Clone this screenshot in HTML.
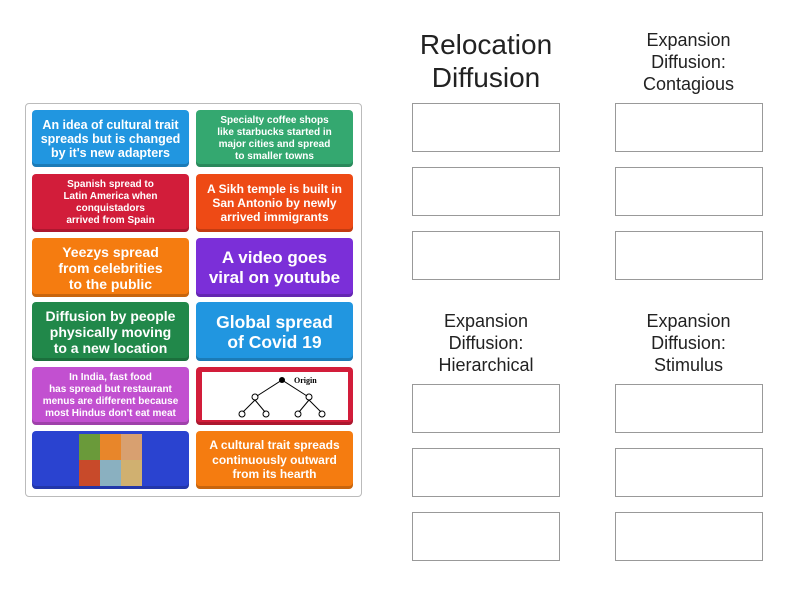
<!DOCTYPE html>
<html><head><meta charset="utf-8"><style>
body{margin:0;width:800px;height:600px;background:#fff;font-family:"Liberation Sans",sans-serif;position:relative;overflow:hidden}
.panel{position:absolute;left:25px;top:103px;width:335px;height:392px;border:1px solid #bbb;border-radius:4px;background:#fff}
.c{position:absolute;width:157px;border-radius:4px;color:#fff;font-weight:bold;text-align:center;display:flex;align-items:center;justify-content:center;line-height:1.15;box-shadow:inset 0 -3px 0 rgba(0,0,0,.18);white-space:nowrap}
.b{position:absolute;width:146px;height:47px;border:1px solid #999;background:#fff}
.h{position:absolute;text-align:center;color:#222}
</style></head><body>
<div class="panel"></div>
<div class="c" style="left:32px;top:110px;height:57px;background:#2196e0;font-size:12.5px;line-height:14px">An idea of cultural trait<br>spreads but is changed<br>by it's new adapters</div>
<div class="c" style="left:196px;top:110px;height:57px;background:#34a870;font-size:10px;line-height:12px">Specialty coffee shops<br>like starbucks started in<br>major cities and spread<br>to smaller towns</div>
<div class="c" style="left:32px;top:174px;height:58px;background:#d21d3a;font-size:10px;line-height:12px">Spanish spread to<br>Latin America when<br>conquistadors<br>arrived from Spain</div>
<div class="c" style="left:196px;top:174px;height:58px;background:#ee4a15;font-size:12px;line-height:14px">A Sikh temple is built in<br>San Antonio by newly<br>arrived immigrants</div>
<div class="c" style="left:32px;top:238px;height:59px;background:#f57c10;font-size:14px;line-height:16px">Yeezys spread<br>from celebrities<br>to the public</div>
<div class="c" style="left:196px;top:238px;height:59px;background:#7b2fd8;font-size:17px;line-height:20px">A video goes<br>viral on youtube</div>
<div class="c" style="left:32px;top:302px;height:59px;background:#21884a;font-size:14px;line-height:16px">Diffusion by people<br>physically moving<br>to a new location</div>
<div class="c" style="left:196px;top:302px;height:59px;background:#2196e0;font-size:17.5px;line-height:20px">Global spread<br>of Covid 19</div>
<div class="c" style="left:32px;top:367px;height:58px;background:#c250d0;font-size:10px;line-height:12px">In India, fast food<br>has spread but restaurant<br>menus are different because<br>most Hindus don't eat meat</div>
<div class="c" style="left:196px;top:367px;height:58px;background:#d21d3a"><svg width="146" height="48" style="background:#fff"><text x="92" y="11" font-size="8" fill="#000" font-family="Liberation Serif">Origin</text><circle cx="80" cy="8" r="3" fill="#000"/><g stroke="#000" fill="none"><line x1="80" y1="8" x2="55" y2="24"/><line x1="80" y1="8" x2="105" y2="24"/><circle cx="53" cy="25" r="3"/><circle cx="107" cy="25" r="3"/><line x1="53" y1="28" x2="41" y2="40"/><line x1="53" y1="28" x2="63" y2="40"/><line x1="107" y1="28" x2="97" y2="40"/><line x1="107" y1="28" x2="119" y2="40"/><circle cx="40" cy="42" r="3"/><circle cx="64" cy="42" r="3"/><circle cx="96" cy="42" r="3"/><circle cx="120" cy="42" r="3"/></g></svg></div>
<div class="c" style="left:32px;top:431px;height:58px;background:#2a43d0"><div style="width:63px;height:52px;display:grid;grid-template-columns:1fr 1fr 1fr;grid-template-rows:1fr 1fr"><div style="background:#6a9a3a"></div><div style="background:#e8862a"></div><div style="background:#d8a070"></div><div style="background:#c84a2a"></div><div style="background:#8ab0c0"></div><div style="background:#d0b070"></div></div></div>
<div class="c" style="left:196px;top:431px;height:58px;background:#f57c10;font-size:12px;line-height:14.5px">A cultural trait spreads<br>continuously outward<br>from its hearth</div>

<div class="h" style="left:400px;top:28px;width:172px;font-size:28px;line-height:33px">Relocation<br>Diffusion</div>
<div class="h" style="left:600px;top:29px;width:177px;font-size:18px;line-height:22px">Expansion<br>Diffusion:<br>Contagious</div>
<div class="h" style="left:400px;top:310px;width:172px;font-size:18px;line-height:22px">Expansion<br>Diffusion:<br>Hierarchical</div>
<div class="h" style="left:600px;top:310px;width:177px;font-size:18px;line-height:22px">Expansion<br>Diffusion:<br>Stimulus</div>

<div class="b" style="left:412px;top:103px"></div><div class="b" style="left:412px;top:167px"></div><div class="b" style="left:412px;top:231px"></div>
<div class="b" style="left:615px;top:103px"></div><div class="b" style="left:615px;top:167px"></div><div class="b" style="left:615px;top:231px"></div>
<div class="b" style="left:412px;top:384px"></div><div class="b" style="left:412px;top:448px"></div><div class="b" style="left:412px;top:512px"></div>
<div class="b" style="left:615px;top:384px"></div><div class="b" style="left:615px;top:448px"></div><div class="b" style="left:615px;top:512px"></div>
</body></html>
